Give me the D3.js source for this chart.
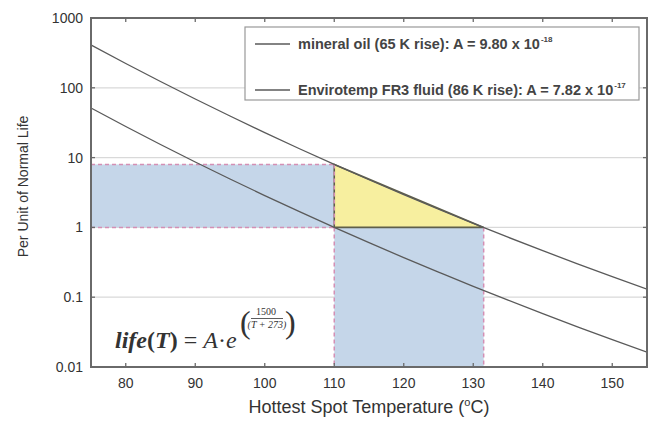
<!DOCTYPE html>
<html><head><meta charset="utf-8">
<script src="https://cdn.jsdelivr.net/npm/d3@7/dist/d3.min.js"></script>
<style>body{margin:0;background:#fff}</style>
</head><body>
<svg id="c" width="654" height="423"></svg>
<script>
// Data
const temps = [75,80,85,90,95,100,105,110,115,120,125,130,135,140,145,150,155];
const mineralOil = [51.4,27.9,15.4,8.66,4.94,2.86,1.68,1.00,0.604,0.369,0.229,0.143,0.0908,0.0581,0.0377,0.0246,0.0163];
const fr3 = [410,223,123,69.1,39.4,22.8,13.4,7.98,4.82,2.95,1.82,1.14,0.724,0.464,0.301,0.197,0.130];
const xTicks = [80,90,100,110,120,130,140,150];
const yTicks = [0.01,0.1,1,10,100,1000];
const yTickLabels = ["0.01","0.1","1","10","100","1000"];
const refTemp = [110, 131.5];
const refLife = [7.98, 1];
const legendLabels = ["mineral oil (65 K rise): A = 9.80 x 10", "Envirotemp FR3 fluid (86 K rise): A = 7.82 x 10"];
const legendExp = ["-18", "-17"];

const svg = d3.select("#c");
const L=91, R=647, T=18, B=367;
const x = d3.scaleLinear().domain([75,155]).range([L,R]);
const y = d3.scaleLog().domain([0.01,1000]).range([B,T]);

svg.append("defs").append("clipPath").attr("id","clip")
  .append("rect").attr("x",L).attr("y",T).attr("width",R-L).attr("height",B-T);

// gridlines
svg.append("g").selectAll("line").data(yTicks.slice(1,-1)).join("line")
  .attr("x1",L).attr("x2",R).attr("y1",d=>y(d)).attr("y2",d=>y(d))
  .attr("stroke","#d9d9d9").attr("stroke-width",1.2);

const blue="#c5d6e9";
svg.append("rect").attr("x",x(75)).attr("y",y(refLife[0])).attr("width",x(refTemp[0])-x(75))
  .attr("height",y(refLife[1])-y(refLife[0])).attr("fill",blue);
svg.append("rect").attr("x",x(refTemp[0])).attr("y",y(refLife[1])).attr("width",x(refTemp[1])-x(refTemp[0]))
  .attr("height",y(0.01)-y(refLife[1])).attr("fill",blue);
svg.append("path")
  .attr("d", d3.line()([[x(refTemp[0]),y(refLife[0])],[x(refTemp[0]),y(refLife[1])],[x(refTemp[1]),y(refLife[1])]]) + "Z")
  .attr("fill","#f7ef9f").attr("stroke","#5f5f4a").attr("stroke-width",1.6);

const pink="#d48fb4";
const dashes = [
  [[75,refLife[0]],[refTemp[0],refLife[0]]],
  [[75,refLife[1]],[refTemp[0],refLife[1]]],
  [[refTemp[0],refLife[0]],[refTemp[0],0.01]],
  [[refTemp[1],refLife[1]],[refTemp[1],0.01]]
];
svg.append("g").selectAll("line").data(dashes).join("line")
  .attr("x1",d=>x(d[0][0])).attr("y1",d=>y(d[0][1]))
  .attr("x2",d=>x(d[1][0])).attr("y2",d=>y(d[1][1]))
  .attr("stroke",pink).attr("stroke-width",1.5).attr("stroke-dasharray","4,3");

const line = d3.line().x(d=>x(d[0])).y(d=>y(d[1])).curve(d3.curveMonotoneX);
[mineralOil, fr3].forEach(s=>{
  svg.append("path").attr("clip-path","url(#clip)")
    .attr("d", line(temps.map((t,i)=>[t,s[i]])))
    .attr("fill","none").attr("stroke","#5a5a5a").attr("stroke-width",1.3);
});

const fg="#6a6a6a";
svg.append("rect").attr("x",L).attr("y",T).attr("width",R-L).attr("height",B-T)
  .attr("fill","none").attr("stroke",fg).attr("stroke-width",2);
const tk = svg.append("g").attr("stroke",fg).attr("stroke-width",1.3);
xTicks.forEach(v=>{
  tk.append("line").attr("x1",x(v)).attr("x2",x(v)).attr("y1",B).attr("y2",B-4);
  tk.append("line").attr("x1",x(v)).attr("x2",x(v)).attr("y1",T).attr("y2",T+4);
});
yTicks.forEach(v=>{
  tk.append("line").attr("x1",L).attr("x2",L+4).attr("y1",y(v)).attr("y2",y(v));
  tk.append("line").attr("x1",R).attr("x2",R-4).attr("y1",y(v)).attr("y2",y(v));
});

const font="Liberation Sans, Arial, sans-serif";
svg.append("g").selectAll("text").data(xTicks).join("text")
  .attr("x",d=>x(d)).attr("y",388).attr("text-anchor","middle")
  .attr("font-family",font).attr("font-size",14).attr("fill","#333").text(d=>d);
svg.append("g").selectAll("text").data(yTicks).join("text")
  .attr("x",83).attr("y",d=>y(d)+5).attr("text-anchor","end")
  .attr("font-family",font).attr("font-size",14).attr("fill","#333").text((d,i)=>yTickLabels[i]);

const xt = svg.append("text").attr("x",(L+R)/2).attr("y",413).attr("text-anchor","middle")
  .attr("font-family",font).attr("font-size",18).attr("fill","#333");
xt.append("tspan").text("Hottest Spot Temperature (");
xt.append("tspan").attr("font-size",11).attr("dy",-7).text("o");
xt.append("tspan").attr("dy",7).text("C)");
svg.append("text").attr("transform",`translate(28,${(T+B)/2 - 6}) rotate(-90)`).attr("text-anchor","middle")
  .attr("font-family",font).attr("font-size",14).attr("fill","#333").text("Per Unit of Normal Life");

const lg = svg.append("g");
lg.append("rect").attr("x",245).attr("y",27).attr("width",394).attr("height",73)
  .attr("fill","#fff").attr("stroke","#999").attr("stroke-width",1.2);
[44,90].forEach((ly,i)=>{
  lg.append("line").attr("x1",255).attr("x2",290).attr("y1",ly).attr("y2",ly)
    .attr("stroke","#5a5a5a").attr("stroke-width",1.3);
  const t = lg.append("text").attr("x",298).attr("y",ly+5).attr("font-family",font)
    .attr("font-size",14.5).attr("font-weight","bold").attr("fill","#444");
  t.append("tspan").text(legendLabels[i]);
  t.append("tspan").attr("font-size",8).attr("dy",-7).attr("dx",1).text(legendExp[i]);
});

// formula
const serif="Liberation Serif, Times New Roman, serif";
const f = svg.append("text").attr("x",115).attr("y",348).attr("font-family",serif)
  .attr("font-size",24).attr("fill","#333");
f.append("tspan").attr("font-style","italic").attr("font-weight","bold").text("life");
f.append("tspan").attr("font-weight","bold").text("(");
f.append("tspan").attr("font-style","italic").attr("font-weight","bold").text("T");
f.append("tspan").attr("font-weight","bold").text(")");
f.append("tspan").text(" = ");
f.append("tspan").attr("font-style","italic").text("A");
f.append("tspan").text("\u00B7");
f.append("tspan").attr("font-style","italic").text("e");
const ex = svg.append("g").attr("font-family",serif).attr("fill","#333");
ex.append("text").attr("x",240).attr("y",333).attr("font-size",32).text("(");
ex.append("text").attr("x",285).attr("y",333).attr("font-size",32).text(")");
ex.append("text").attr("x",266).attr("y",315).attr("text-anchor","middle").attr("font-size",10).text("1500");
ex.append("line").attr("x1",251).attr("x2",283).attr("y1",318.5).attr("y2",318.5).attr("stroke","#333").attr("stroke-width",0.8);
ex.append("text").attr("x",267).attr("y",328).attr("text-anchor","middle").attr("font-size",10).attr("font-style","italic").text("(T + 273)");
</script>
</body></html>
